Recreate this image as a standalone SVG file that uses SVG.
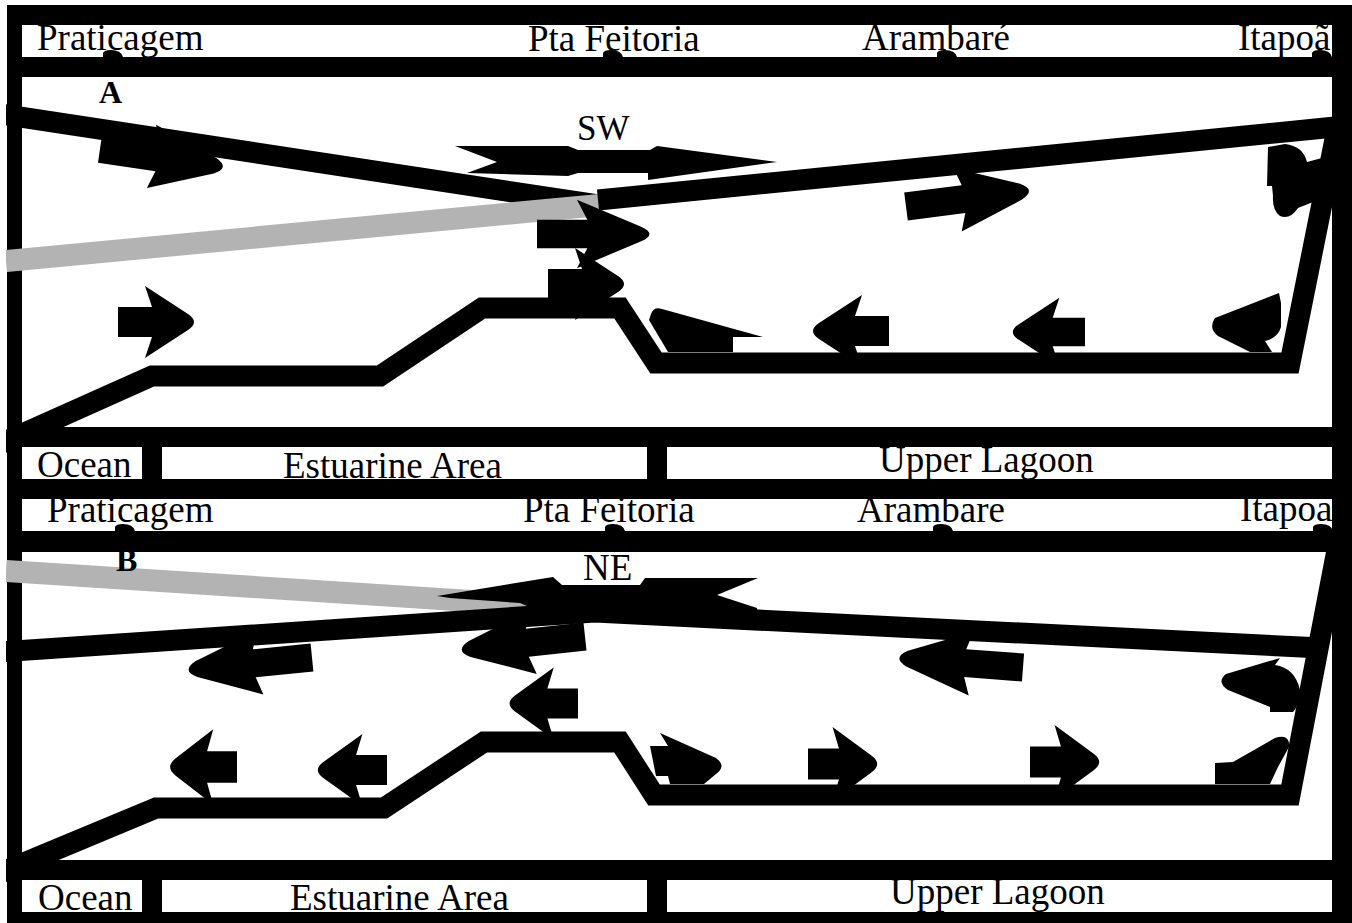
<svg xmlns="http://www.w3.org/2000/svg" width="1352" height="923" viewBox="0 0 1352 923">
<style>
.lbl{font-family:"Liberation Serif","Times New Roman",serif;font-size:37px;fill:#000}
.pl{font-family:"Liberation Serif","Times New Roman",serif;font-size:32px;font-weight:bold;fill:#000}
.ln{fill:none;stroke:#000;stroke-width:21;stroke-linejoin:miter;stroke-miterlimit:10}
.gr{fill:none;stroke:#b3b3b3;stroke-width:22}
.blk{fill:#000}
</style>
<defs>
<path id="arS" d="M0,-15H34L27,-36L70,-8Q82,0 70,8L27,36L34,15H0Z"/>
<path id="arL" d="M0,-14H58L52,-32L116,-8Q132,0 116,8L52,32L58,14H0Z"/>
<path id="bump" d="M0,0V-4Q1,-7 8,-7Q18,-7 20,0Z"/>
<clipPath id="inside"><rect x="6" y="0" width="1346" height="923"/></clipPath>
</defs>
<rect width="1352" height="923" fill="#fff"/>

<g id="labels" class="lbl">
<text x="37" y="50">Praticagem</text>
<text x="528" y="51">Pta Feitoria</text>
<text x="862" y="50">Arambaré</text>
<text x="1238" y="50">Itapoã</text>
<text x="37" y="477">Ocean</text>
<text x="283" y="478">Estuarine Area</text>
<text x="879" y="472">Upper Lagoon</text>
<text x="47" y="522">Praticagem</text>
<text x="523" y="522">Pta Feitoria</text>
<text x="857" y="522">Arambare</text>
<text x="1240" y="521">Itapoa</text>
<text x="38" y="910">Ocean</text>
<text x="290" y="910">Estuarine Area</text>
<text x="890" y="904">Upper Lagoon</text>
</g>

<g id="frame" class="blk">
<rect x="7" y="5" width="1345" height="20"/>
<rect x="7" y="5" width="15" height="918"/>
<rect x="1332" y="5" width="20" height="918"/>
<rect x="7" y="57" width="1345" height="20"/>
<rect x="7" y="427" width="1345" height="20"/>
<rect x="142" y="427" width="20" height="72"/>
<rect x="647" y="427" width="20" height="72"/>
<rect x="7" y="479" width="1345" height="20"/>
<rect x="7" y="531" width="1345" height="21"/>
<rect x="7" y="860" width="1345" height="20"/>
<rect x="142" y="860" width="20" height="63"/>
<rect x="647" y="860" width="20" height="63"/>
<rect x="7" y="912" width="1345" height="11"/>
</g>

<g id="markers" class="blk">
<use href="#bump" x="103" y="57"/>
<use href="#bump" x="603" y="57"/>
<use href="#bump" x="937" y="57"/>
<use href="#bump" x="1312" y="57"/>
<use href="#bump" x="115" y="531"/>
<use href="#bump" x="605" y="531"/>
<use href="#bump" x="933" y="531"/>
<use href="#bump" x="1313" y="531"/>
</g>

<g id="connectors" clip-path="url(#inside)">
<g id="panelA-lines">
<path class="ln" d="M0,114L598,205"/>
<path class="gr" d="M6,261L600,205"/>
<path class="ln" d="M598,200L1345,126"/>
<path class="ln" d="M0,444L152,376L380,376L482,308L620,308L656,363L1290,363L1338,124"/>
</g>
<g id="panelB-lines">
<path class="gr" d="M6,571L595,609"/>
<path id="wind-NE" class="blk" d="M437,596L553,577L562,585L640,585L645,578L758,578L717,595L757,608L757,618L600,616L560,620L520,603L450,598Z"/>
<path class="ln" d="M0,652L595,612L1322,648"/>
<path class="ln" d="M0,873L156,808L384,808L484,742L620,742L654,795L1290,795L1337,550"/>
</g>
</g>

<g id="arrowsA" class="blk">
<path id="wind-SW" d="M455,146L568,146L578,150L650,150L657,146L777,162L648,180L648,173L578,173L568,176L467,173L497,162Z"/>
<use href="#arL" transform="translate(100,149) rotate(8.2)"/>
<use href="#arL" transform="translate(906,206.5) rotate(-7.4)"/>
<use href="#arS" transform="translate(537,234) scale(1.48,0.95)"/>
<use href="#arS" transform="translate(548,284)"/>
<use href="#arS" transform="translate(118,322)"/>
<use href="#arS" transform="translate(889,331) rotate(180)"/>
<use href="#arS" transform="translate(1085,332) rotate(180) scale(0.95)"/>
<path d="M1267,186L1268,147L1285,144Q1303,146 1307,162L1322,158L1318,200L1298,208Q1290,220 1280,216Q1272,210 1273,196L1272,186Z"/>
<path d="M649,320L651,314Q654,306 662,309L763,337L733,337L733,352L668,352Z"/>
<path d="M1279,293L1281,303L1281,327Q1278,338 1265,341L1272,352L1250,352L1218,336Q1208,328 1215,318Z"/>
</g>

<g id="arrowsB" class="blk">
<use href="#arL" transform="translate(312,657.5) rotate(174.3)"/>
<use href="#arL" transform="translate(585,636.5) rotate(173.8)"/>
<use href="#arL" transform="translate(1023,667.5) rotate(184.35)"/>
<use href="#arS" transform="translate(578,703.5) rotate(180) scale(0.9,1)"/>
<use href="#arS" transform="translate(237,767) rotate(180) scale(0.88,1.05)"/>
<use href="#arS" transform="translate(387,770) rotate(180) scale(0.91,1)"/>
<use href="#arS" transform="translate(808,764) scale(0.91,1.03)"/>
<use href="#arS" transform="translate(1030,762) scale(0.91,1.03)"/>
<path d="M1280,658L1275,665Q1295,668 1300,690Q1298,708 1293,712L1270,712L1270,707L1228,690Q1216,682 1226,674Z"/>
<path d="M650,746L668,746L660,733L716,758Q727,766 716,774L704,784L670,784L668,776L656,776Z"/>
<path d="M1215,763L1233,762L1275,738Q1290,733 1289,747L1278,767L1270,784L1215,784Z"/>
</g>

<g id="panel-tags">
<text class="pl" x="99" y="103">A</text>
<text class="pl" x="116" y="571">B</text>
<text class="lbl" x="577" y="140" style="font-size:35px">SW</text>
<text class="lbl" x="583" y="580" style="font-size:37px">NE</text>
</g>
</svg>
